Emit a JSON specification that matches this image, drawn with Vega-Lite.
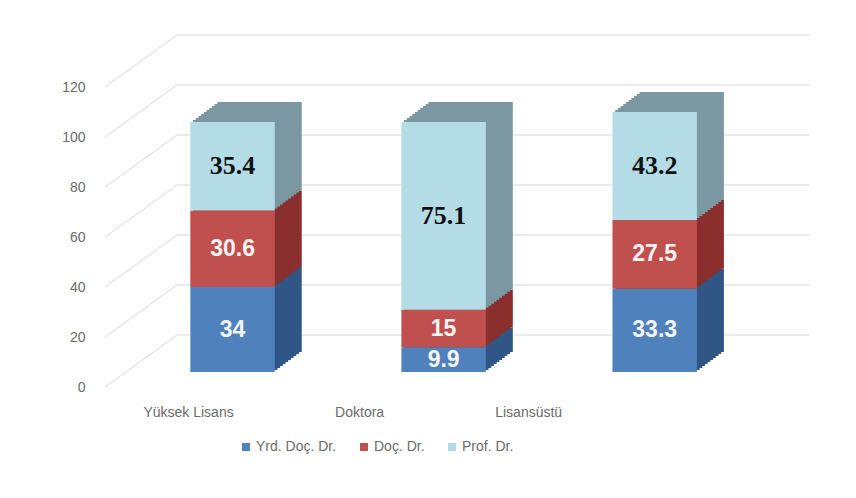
{
  "$schema": "https://vega.github.io/schema/vega-lite/v6.json",
  "width": 705,
  "height": 300,
  "autosize": {"type": "none"},
  "padding": {"left": 105, "top": 72, "right": 46, "bottom": 126},
  "background": "white",
  "config": {
    "view": {"stroke": null},
    "font": "Liberation Sans"
  },
  "datasets": {
    "bars": [
      {"derece": "Yüksek Lisans", "unvan": "Yrd. Doç. Dr.", "sira": 1, "deger": 34},
      {"derece": "Yüksek Lisans", "unvan": "Doç. Dr.", "sira": 2, "deger": 30.6},
      {"derece": "Yüksek Lisans", "unvan": "Prof. Dr.", "sira": 3, "deger": 35.4},
      {"derece": "Doktora", "unvan": "Yrd. Doç. Dr.", "sira": 1, "deger": 9.9},
      {"derece": "Doktora", "unvan": "Doç. Dr.", "sira": 2, "deger": 15},
      {"derece": "Doktora", "unvan": "Prof. Dr.", "sira": 3, "deger": 75.1},
      {"derece": "Lisansüstü", "unvan": "Yrd. Doç. Dr.", "sira": 1, "deger": 33.3},
      {"derece": "Lisansüstü", "unvan": "Doç. Dr.", "sira": 2, "deger": 27.5},
      {"derece": "Lisansüstü", "unvan": "Prof. Dr.", "sira": 3, "deger": 43.2}
    ],
    "grid": [{"v": 0}, {"v": 20}, {"v": 40}, {"v": 60}, {"v": 80}, {"v": 100}, {"v": 120}]
  },
  "layer": [
    {
      "data": {"name": "grid"},
      "mark": {"type": "rule", "yOffset": -37, "stroke": "#d9d9d9", "strokeWidth": 1},
      "encoding": {
        "y": {"field": "v", "type": "quantitative", "scale": {"domain": [0, 120], "nice": false, "zero": true},
          "axis": {"title": null, "values": [0, 20, 40, 60, 80, 100, 120], "domain": false, "ticks": false, "grid": false,
            "labelOffset": 15, "labelPadding": 20, "labelFontSize": 14, "labelColor": "#6b6b6b", "labelFont": "Liberation Sans"}},
        "x": {"value": 72},
        "x2": {"value": 705}
      }
    },
    {
      "data": {"name": "grid"},
      "mark": {"type": "rule", "yOffset": 15, "y2Offset": -37, "stroke": "#d9d9d9", "strokeWidth": 1},
      "encoding": {
        "y": {"field": "v", "type": "quantitative"},
        "y2": {"field": "v"},
        "x": {"value": 0},
        "x2": {"value": 72}
      }
    },
    {
      "data": {"name": "bars"},
      "encoding": {
        "x": {"field": "derece", "type": "nominal", "sort": null,
          "scale": {"paddingInner": 0.6, "paddingOuter": 0.47, "align": 0.43},
          "axis": {"title": null, "domain": false, "ticks": false, "labelAngle": 0, "labelPadding": 33,
            "labelFontSize": 14, "labelColor": "#6b6b6b", "labelFont": "Liberation Sans",
            "labelOffset": {"expr": "datum.value == 'Yüksek Lisans' ? -44 : datum.value == 'Doktora' ? -84 : -126"}}},
        "y": {"field": "deger", "type": "quantitative", "stack": "zero"},
        "order": {"field": "sira", "type": "quantitative", "sort": "ascending"}
      },
      "layer": [
        {"mark": {"type": "bar", "xOffset": 27, "yOffset": -20}, "encoding": {"fill": {"field": "unvan", "type": "nominal", "scale": {"domain": ["Yrd. Doç. Dr.", "Doç. Dr.", "Prof. Dr."], "range": ["#2f5685", "#8a2f2d", "#7b98a2"]}, "legend": null}}},
        {"mark": {"type": "bar", "xOffset": 24.3, "yOffset": -18}, "encoding": {"fill": {"field": "unvan", "type": "nominal", "legend": null}}},
        {"mark": {"type": "bar", "xOffset": 21.6, "yOffset": -16}, "encoding": {"fill": {"field": "unvan", "type": "nominal", "legend": null}}},
        {"mark": {"type": "bar", "xOffset": 18.9, "yOffset": -14}, "encoding": {"fill": {"field": "unvan", "type": "nominal", "legend": null}}},
        {"mark": {"type": "bar", "xOffset": 16.2, "yOffset": -12}, "encoding": {"fill": {"field": "unvan", "type": "nominal", "legend": null}}},
        {"mark": {"type": "bar", "xOffset": 13.5, "yOffset": -10}, "encoding": {"fill": {"field": "unvan", "type": "nominal", "legend": null}}},
        {"mark": {"type": "bar", "xOffset": 10.8, "yOffset": -8}, "encoding": {"fill": {"field": "unvan", "type": "nominal", "legend": null}}},
        {"mark": {"type": "bar", "xOffset": 8.1, "yOffset": -6}, "encoding": {"fill": {"field": "unvan", "type": "nominal", "legend": null}}},
        {"mark": {"type": "bar", "xOffset": 5.4, "yOffset": -4}, "encoding": {"fill": {"field": "unvan", "type": "nominal", "legend": null}}},
        {"mark": {"type": "bar", "xOffset": 2.7, "yOffset": -2}, "encoding": {"fill": {"field": "unvan", "type": "nominal", "legend": null}}},
        {
          "mark": {"type": "bar"},
          "encoding": {
            "color": {"field": "unvan", "type": "nominal", "sort": {"field": "sira", "op": "min"},
              "scale": {"range": ["#4f81bd", "#c0504d", "#b4dce7"]},
              "legend": {"title": null, "orient": "none", "direction": "horizontal", "legendX": 134, "legendY": 368,
                "symbolType": "square", "symbolSize": 64, "symbolStrokeWidth": 0, "labelFontSize": 14, "labelColor": "#6b6b6b",
                "labelFont": "Liberation Sans", "columnPadding": 20, "labelOffset": 3, "padding": 0}}
          }
        }
      ]
    },
    {
      "data": {"name": "bars"},
      "transform": [
        {"stack": "deger", "groupby": ["derece"], "sort": [{"field": "sira", "order": "ascending"}], "as": ["y0", "y1"]},
        {"calculate": "(datum.y0 + datum.y1) / 2", "as": "ymid"},
        {"filter": "datum.unvan == 'Prof. Dr.'"}
      ],
      "mark": {"type": "text", "font": "Liberation Serif", "fontWeight": "bold", "fontSize": 26, "color": "#111111", "baseline": "middle", "align": "center"},
      "encoding": {
        "x": {"field": "derece", "type": "nominal", "sort": null},
        "y": {"field": "ymid", "type": "quantitative"},
        "text": {"field": "deger", "type": "quantitative", "format": "~g"}
      }
    },
    {
      "data": {"name": "bars"},
      "transform": [
        {"stack": "deger", "groupby": ["derece"], "sort": [{"field": "sira", "order": "ascending"}], "as": ["y0", "y1"]},
        {"calculate": "(datum.y0 + datum.y1) / 2", "as": "ymid"},
        {"filter": "datum.unvan != 'Prof. Dr.'"}
      ],
      "mark": {"type": "text", "font": "Liberation Sans", "fontWeight": "bold", "fontSize": 23, "color": "#f4f4f4", "baseline": "middle", "align": "center"},
      "encoding": {
        "x": {"field": "derece", "type": "nominal", "sort": null},
        "y": {"field": "ymid", "type": "quantitative"},
        "text": {"field": "deger", "type": "quantitative", "format": "~g"}
      }
    }
  ]
}
